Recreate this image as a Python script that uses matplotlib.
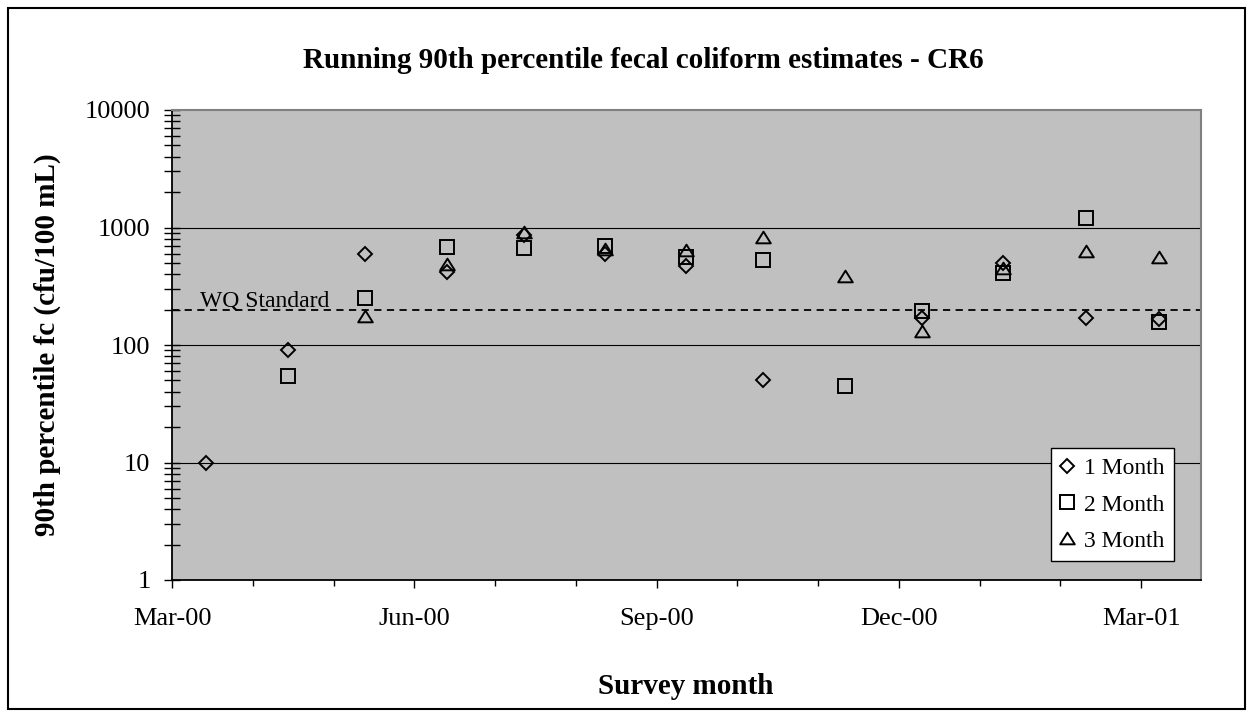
#!/usr/bin/env python3
# -*- coding: utf-8 -*-
"""
Running 90th percentile fecal coliform estimates - CR6
Log-scale scatter of 1/2/3 month running estimates against survey month
"""

import numpy as np
import pandas as pd
import matplotlib
matplotlib.use("Agg")
import matplotlib.pyplot as plt
from matplotlib.patches import Rectangle
from matplotlib.path import Path
import matplotlib.transforms as mtransforms

# Data
survey_dates = ["2000-03-14", "2000-04-14", "2000-05-13", "2000-06-13",
                "2000-07-12", "2000-08-12", "2000-09-12", "2000-10-11",
                "2000-11-11", "2000-12-10", "2001-01-10", "2001-02-10",
                "2001-03-08"]
one_month = [10, 90, 600, 420, 870, 600, 470, 50, np.nan, 170, 500, 170, 165]
two_month = [np.nan, 55, 250, 680, 665, 690, 560, 530, 45, 195, 410, 1200, 158]
three_month = [np.nan, np.nan, 175, 490, 920, 650, 640, 830, 390, 132, 450, 630, 560]
series_names = ["1 Month", "2 Month", "3 Month"]

wq_standard = 200
decade_lines = [10, 100, 1000]
axis_start = "2000-03-01"
major_labels = ["Mar-00", "Jun-00", "Sep-00", "Dec-00", "Mar-01"]
y_ticks = [1, 10, 100, 1000, 10000]

W, H = 1253, 717


def month_position(dates, start):
    """Месяцы от начала оси (дробные, по дню месяца)"""
    d = pd.to_datetime(pd.Series(dates))
    s = pd.Timestamp(start)
    whole = (d.dt.year - s.year) * 12 + (d.dt.month - s.month)
    frac = (d.dt.day - 1) / d.dt.days_in_month
    return (whole + frac).to_numpy()


def main():
    plt.rcParams['font.family'] = ['Liberation Serif', 'DejaVu Serif']

    fig = plt.figure(figsize=(W / 100, H / 100), dpi=100)
    left, right, top, bottom = 172, 1201, 110, 580
    ax = fig.add_axes([left / W, 1 - bottom / H, (right - left) / W, (bottom - top) / H])
    ax.set_facecolor('#C0C0C0')

    x = month_position(survey_dates, axis_start)

    tri = Path([(0, 0.8), (-1, -0.8), (1, -0.8), (0, 0.8)],
               [Path.MOVETO, Path.LINETO, Path.LINETO, Path.CLOSEPOLY])
    styles = [dict(marker='D', ms=7.2), dict(marker='s', ms=9.5), dict(marker=tri, ms=10.5)]
    for vals, name, st in zip([one_month, two_month, three_month], series_names, styles):
        ax.plot(x, vals, linestyle='none', mfc='none', mec='black', mew=1.4,
                label=name, **st)

    # горизонтальные линии по декадам и стандарт
    for v in decade_lines:
        ax.axhline(v, color='black', lw=0.8, zorder=1)
    ax.axhline(wq_standard, color='black', lw=1.3, linestyle=(0, (4, 3)), zorder=1)
    trans = mtransforms.blended_transform_factory(ax.transAxes, ax.transData)
    ax.annotate('WQ Standard', xy=(0.027, wq_standard), xycoords=trans,
                xytext=(0, 2), textcoords='offset points', fontsize=17,
                va='baseline', ha='left')

    ax.set_yscale('log')
    ax.set_ylim(1, 10000)
    ax.set_yticks(y_ticks)
    ax.set_yticklabels([str(v) for v in y_ticks])
    ax.yaxis.set_minor_locator(matplotlib.ticker.LogLocator(base=10, subs=np.arange(2, 10)))
    ax.yaxis.set_minor_formatter(matplotlib.ticker.NullFormatter())
    ax.tick_params(axis='y', which='both', direction='inout', length=11, width=1,
                   pad=10, labelsize=19)

    ax.set_xlim(0, 12.74)
    ax.set_xticks(np.arange(0, 13, 3))
    ax.set_xticklabels(major_labels)
    ax.set_xticks(np.arange(0, 13), minor=True)
    ax.tick_params(axis='x', which='major', direction='out', length=6, width=1,
                   pad=14.5, labelsize=19)
    ax.tick_params(axis='x', which='minor', direction='out', length=4, width=1)

    for s in ['top', 'right']:
        ax.spines[s].set_color('#808080')
        ax.spines[s].set_linewidth(1.5)
    for s in ['left', 'bottom']:
        ax.spines[s].set_color('black')
        ax.spines[s].set_linewidth(1.3)

    leg = ax.legend(loc='upper left', bbox_to_anchor=(0.854, 0.280), borderaxespad=0,
                    fontsize=17, frameon=True, fancybox=False, framealpha=1,
                    edgecolor='black', handlelength=0.6, handletextpad=0.4,
                    labelspacing=0.62, borderpad=0.4, markerscale=1.0)
    leg.get_frame().set_linewidth(1.0)

    fig.text(643 / W, 1 - 61 / H, 'Running 90th percentile fecal coliform estimates - CR6',
             ha='center', va='center', fontsize=21, fontweight='bold')
    fig.text(47 / W, 1 - 345 / H, '90th percentile fc (cfu/100 mL)', rotation=90,
             ha='center', va='center', fontsize=21, fontweight='bold')
    fig.text(686 / W, 1 - 686 / H, 'Survey month', ha='center', va='center',
             fontsize=21, fontweight='bold')

    # рамка вокруг всей диаграммы
    fig.add_artist(Rectangle((8 / W, 8 / H), (1245 - 8) / W, (709 - 8) / H,
                             transform=fig.transFigure, fill=False, lw=1.5,
                             edgecolor='black'))

    fig.savefig('out.png', dpi=100)
    plt.close(fig)


if __name__ == "__main__":
    main()
